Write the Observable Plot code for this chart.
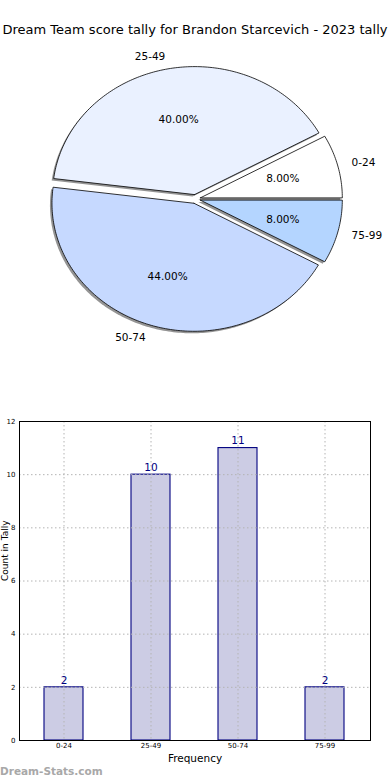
<!DOCTYPE html>
<html>
<head>
<meta charset="utf-8">
<script src="https://cdn.jsdelivr.net/npm/d3@7"></script>
<script src="https://cdn.jsdelivr.net/npm/@observablehq/plot@0.6"></script>
<style>
  html, body { margin: 0; padding: 0; background: #fff; }
  body { width: 390px; height: 780px; position: relative; overflow: hidden; font-family: "DejaVu Sans", sans-serif; }
  #title { height: 44px; box-sizing: border-box; padding-top: 21px; line-height: 18px; font-size: 13px; text-align: center; white-space: nowrap; color: #000; }
  #pie svg, #bars svg { display: block; overflow: visible; }
  #mark { position: absolute; left: 0; top: 762px; font-size: 10.5px; font-weight: bold; color: #a8a8a8; line-height: 18px; }
</style>
</head>
<body>
<div id="title">Dream Team score tally for Brandon Starcevich - 2023 tally</div>
<div id="pie"></div>
<div id="bars"></div>
<div id="mark">Dream-Stats.com</div>
<script>
// ---- data ----
const categories = ["0-24", "25-49", "50-74", "75-99"];
const counts = [2, 10, 11, 2];
const yTicks = [0, 2, 4, 6, 8, 10, 12];
const sliceColors = ["#ffffff", "#eaf1ff", "#c6d9ff", "#b4d5ff"];

// ---- pie geometry (matplotlib style: start at 0°, counter-clockwise) ----
const total = d3.sum(counts);
const explode = 0.035;
const piePts = [];
const pctLabels = [];
const catLabels = [];
let cum = 0;
categories.forEach((cat, i) => {
  const a0 = cum / total * 2 * Math.PI;
  cum += counts[i];
  const a1 = cum / total * 2 * Math.PI;
  const mid = (a0 + a1) / 2;
  const ox = explode * Math.cos(mid), oy = explode * Math.sin(mid);
  piePts.push({cat, x: ox, y: oy});
  const n = Math.max(2, Math.ceil((a1 - a0) / (Math.PI / 180)));
  for (let k = 0; k <= n; k++) {
    const a = a0 + (a1 - a0) * k / n;
    piePts.push({cat, x: ox + Math.cos(a), y: oy + Math.sin(a)});
  }
  piePts.push({cat, x: ox, y: oy});
  pctLabels.push({x: ox + 0.6 * Math.cos(mid), y: oy + 0.6 * Math.sin(mid), text: (counts[i] / total * 100).toFixed(2) + "%"});
  catLabels.push({x: ox + 1.1 * Math.cos(mid), y: oy + 1.1 * Math.sin(mid), text: cat});
});

const pie = Plot.plot({
  width: 390,
  height: 356,
  margin: 0,
  style: {fontFamily: "DejaVu Sans", fontSize: "10.5px", color: "#000", background: "transparent"},
  x: {domain: [-1, 1], range: [53, 337], axis: null},
  y: {domain: [-1, 1], range: [282.5, 26.5], axis: null},
  color: {domain: categories, range: sliceColors},
  marks: [
    Plot.line(piePts, {x: "x", y: "y", z: "cat", fill: "#666666", fillOpacity: 0.7, stroke: "none", dx: -2, dy: 2}),
    Plot.line(piePts, {x: "x", y: "y", z: "cat", fill: "cat", stroke: "#000", strokeWidth: 0.8}),
    Plot.text(pctLabels, {x: "x", y: "y", text: "text", fill: "#000"}),
    Plot.text(catLabels.filter(d => d.x >= 0), {x: "x", y: "y", text: "text", textAnchor: "start", fill: "#000"}),
    Plot.text(catLabels.filter(d => d.x < 0), {x: "x", y: "y", text: "text", textAnchor: "end", fill: "#000"})
  ]
});
document.getElementById("pie").append(pie);

// ---- bar chart ----
const barData = categories.map((cat, i) => ({cat, count: counts[i]}));
const bars = Plot.plot({
  width: 390,
  height: 380,
  marginTop: 21,
  marginBottom: 40,
  marginLeft: 19,
  marginRight: 20,
  style: {fontFamily: "DejaVu Sans", fontSize: "7px", color: "#000", background: "transparent"},
  x: {domain: categories, paddingInner: 0.55, paddingOuter: 0.275, tickSize: 0, tickPadding: 3, label: null},
  y: {domain: [0, 12], ticks: yTicks, tickSize: 0, tickPadding: 4, label: null},
  marks: [
    Plot.barY(barData, {x: "cat", y: "count", fill: "#ccccE4", stroke: "#000080", strokeWidth: 1.1}),
    Plot.ruleY(yTicks, {stroke: "#b4b4b4", strokeDasharray: "1.5,2.5"}),
    Plot.ruleX(categories, {stroke: "#b4b4b4", strokeDasharray: "1.5,2.5"}),
    Plot.frame({stroke: "#000"}),
    Plot.text(barData, {x: "cat", y: "count", text: d => String(d.count), dy: -7, fill: "#000080", fontSize: 10.5}),
    Plot.text(["Frequency"], {frameAnchor: "bottom", dy: 21, fontSize: 10.5, fill: "#000"}),
    Plot.text(["Count in Tally"], {frameAnchor: "left", dx: -14, rotate: -90, fontSize: 9, fill: "#000"})
  ]
});
document.getElementById("bars").append(bars);
</script>
</body>
</html>
